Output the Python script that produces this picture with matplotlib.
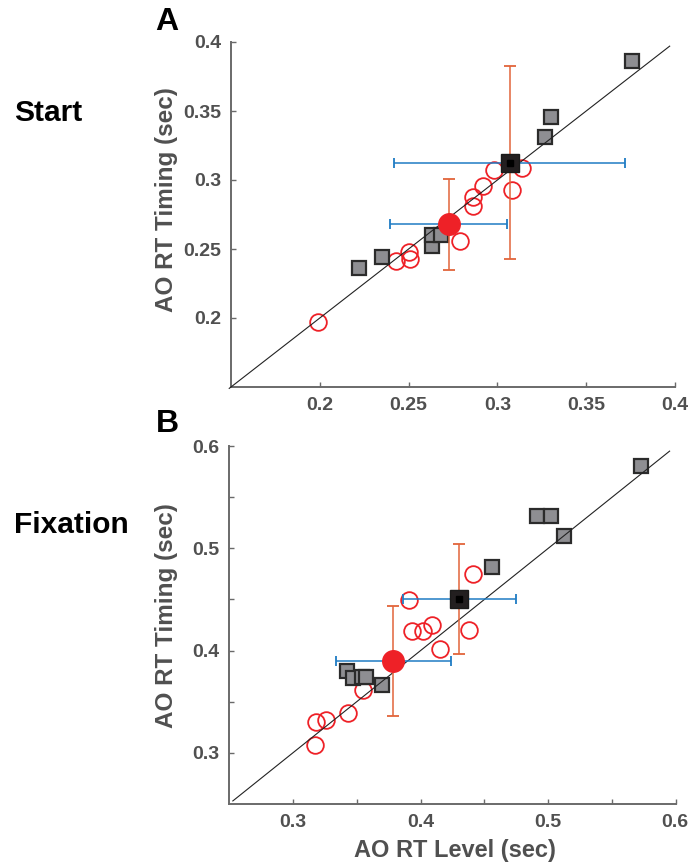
import matplotlib
matplotlib.use("Agg")
import matplotlib.pyplot as plt
import numpy as np

plt.rcParams['font.family'] = ['Liberation Sans', 'DejaVu Sans']

# ---------------- Panel A (Start) ----------------
a_circ_x = [0.199, 0.243, 0.250, 0.251, 0.279, 0.286, 0.286, 0.292, 0.298, 0.308, 0.314]
a_circ_y = [0.197, 0.241, 0.248, 0.243, 0.256, 0.281, 0.288, 0.296, 0.307, 0.293, 0.309]
a_sq_x = [0.222, 0.235, 0.263, 0.263, 0.268, 0.327, 0.330, 0.376]
a_sq_y = [0.236, 0.244, 0.252, 0.260, 0.260, 0.331, 0.346, 0.386]
a_red_mean = (0.2725, 0.268)
a_red_err = (0.033, 0.033)      # (x err, y err)
a_blk_mean = (0.307, 0.3126)
a_blk_err = (0.065, 0.070)
a_line = (0.149, 0.397)
a_ticks = [0.2, 0.25, 0.3, 0.35, 0.4]
a_ticklabels = ['0.2', '0.25', '0.3', '0.35', '0.4']

# ---------------- Panel B (Fixation) ----------------
b_circ_x = [0.317, 0.318, 0.326, 0.343, 0.355, 0.391, 0.393, 0.402, 0.409, 0.415, 0.438, 0.441]
b_circ_y = [0.308, 0.330, 0.332, 0.339, 0.361, 0.449, 0.419, 0.419, 0.425, 0.402, 0.420, 0.475]
b_sq_x = [0.3425, 0.347, 0.354, 0.357, 0.370, 0.456, 0.491, 0.502, 0.512, 0.5725]
b_sq_y = [0.380, 0.373, 0.374, 0.374, 0.366, 0.482, 0.532, 0.532, 0.512, 0.580]
b_red_mean = (0.3787, 0.3898)
b_red_err = (0.045, 0.054)
b_blk_mean = (0.4304, 0.4504)
b_blk_err = (0.0445, 0.0537)
b_line = (0.253, 0.595)
b_ticks = [0.3, 0.4, 0.5, 0.6]
b_ticklabels = ['0.3', '0.4', '0.5', '0.6']
b_minor = [0.35, 0.45, 0.55]

W, H = 690, 867
fig = plt.figure(figsize=(W / 100, H / 100), dpi=100)

def px_axes(l, r, t, b):
    return fig.add_axes([l / W, (H - b) / H, (r - l) / W, (b - t) / H])

axA = px_axes(231, 675, 42, 387)
axB = px_axes(229, 676, 446, 804)

BLUE = '#1f7cc4'
ORANGE = '#e2653a'
RED = '#ee2127'
TICKC = '#505050'
SPINE = '#6a6a6a'

def draw(ax, cx, cy, sx, sy, rm, re, bm, be, line, lims):
    ax.plot(cx, cy, 'o', ms=12, mfc='none', mec=RED, mew=1.3, zorder=2)
    ax.plot(sx, sy, 's', ms=10, mfc='#8e8e92', mec='#2b2b2b', mew=1.6, zorder=3)
    ax.plot(line, line, '-', color='#222222', lw=0.8, zorder=4, clip_on=False)
    for (m, e) in [(rm, re), (bm, be)]:
        ax.errorbar(m[0], m[1], xerr=e[0], fmt='none', ecolor=BLUE, elinewidth=1.1,
                    capsize=3.5, capthick=1.3, zorder=5)
        ax.errorbar(m[0], m[1], yerr=e[1], fmt='none', ecolor=ORANGE, elinewidth=1.1,
                    capsize=4, capthick=1.3, zorder=5)
    ax.plot(rm[0], rm[1], 'o', ms=15.5, mfc=RED, mec=RED, zorder=6)
    ax.plot(bm[0], bm[1], 's', ms=12.5, mfc='#231f20', mec='#1a1a1a', mew=1, zorder=6)
    ax.plot(bm[0], bm[1], 's', ms=4.5, mfc='black', mec='black', zorder=7)
    ax.set_xlim(lims)
    ax.set_ylim(lims)
    for s in ['top', 'right']:
        ax.spines[s].set_visible(False)
    for s in ['left', 'bottom']:
        ax.spines[s].set_color(SPINE)
        ax.spines[s].set_linewidth(1.4)

draw(axA, a_circ_x, a_circ_y, a_sq_x, a_sq_y, a_red_mean, a_red_err,
     a_blk_mean, a_blk_err, a_line, (0.15, 0.4))
axA.set_xticks(a_ticks)
axA.set_xticklabels(a_ticklabels, fontweight='bold')
axA.set_yticks(a_ticks)
axA.set_yticklabels(a_ticklabels, fontweight='bold')

draw(axB, b_circ_x, b_circ_y, b_sq_x, b_sq_y, b_red_mean, b_red_err,
     b_blk_mean, b_blk_err, b_line, (0.25, 0.6))
axB.set_xticks(b_ticks)
axB.set_xticklabels(b_ticklabels, fontweight='bold')
axB.set_yticks(b_ticks)
axB.set_yticklabels(b_ticklabels, fontweight='bold')
axB.set_xticks(b_minor, minor=True)
axB.set_yticks(b_minor, minor=True)

for ax in (axA, axB):
    ax.tick_params(which='both', direction='in', length=3.5, width=1, color=SPINE,
                   labelsize=14, labelcolor=TICKC, pad=7)

# the last x tick label of panel B sits flush against the figure edge
labs = axB.get_xticklabels()
labs[-1].set_horizontalalignment('right')
labs[-1].set_x(0.6)
import matplotlib.transforms as mtransforms
labs[-1].set_transform(labs[-1].get_transform() + mtransforms.ScaledTranslation(12 / 100, 0, fig.dpi_scale_trans))

# axis labels
fig.text(166 / W, 1 - 200 / H, 'AO RT Timing (sec)', rotation=90, ha='center', va='center',
         fontsize=17.5, fontweight='bold', color=TICKC)
fig.text(166 / W, 1 - 616 / H, 'AO RT Timing (sec)', rotation=90, ha='center', va='center',
         fontsize=17.5, fontweight='bold', color=TICKC)
fig.text(455 / W, 1 - 851 / H, 'AO RT Level (sec)', ha='center', va='center',
         fontsize=17, fontweight='bold', color=TICKC)

# panel letters and row titles
fig.text(167 / W, 1 - 22 / H, 'A', ha='center', va='center', fontsize=23, fontweight='bold')
fig.text(167 / W, 1 - 424 / H, 'B', ha='center', va='center', fontsize=23, fontweight='bold')
fig.text(14 / W, 1 - 113 / H, 'Start', ha='left', va='center', fontsize=21.5, fontweight='bold')
fig.text(14 / W, 1 - 525 / H, 'Fixation', ha='left', va='center', fontsize=21.5, fontweight='bold')

fig.savefig('out.png', dpi=100)
